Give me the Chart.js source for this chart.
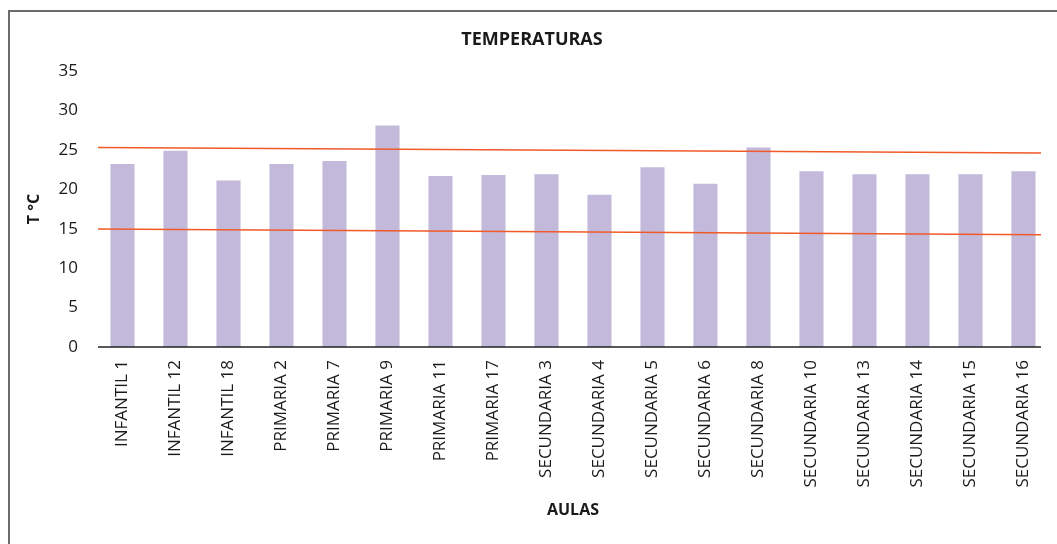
<!DOCTYPE html>
<html>
<head>
<meta charset="utf-8">
<script src="https://cdn.jsdelivr.net/npm/chart.js@4.4.1/dist/chart.umd.min.js"></script>
<style>
  html, body { margin: 0; padding: 0; background: #fff; overflow: hidden; }
  #wrap { position: relative; width: 1057px; height: 544px; }
  #frame { position: absolute; left: 8px; top: 10px; width: 1100px; height: 600px;
           border-left: 2px solid #6b6b6b; border-top: 2px solid #6b6b6b; box-sizing: border-box; }
  canvas { position: absolute; left: 0; top: 0; }
</style>
</head>
<body>
<div id="wrap">
  <div id="frame"></div>
  <canvas id="c" width="1057" height="544"></canvas>
</div>
<script>
const categories = ["INFANTIL 1","INFANTIL 12","INFANTIL 18","PRIMARIA 2","PRIMARIA 7","PRIMARIA 9","PRIMARIA 11","PRIMARIA 17","SECUNDARIA 3","SECUNDARIA 4","SECUNDARIA 5","SECUNDARIA 6","SECUNDARIA 8","SECUNDARIA 10","SECUNDARIA 13","SECUNDARIA 14","SECUNDARIA 15","SECUNDARIA 16"];
const temperatures = [23.2, 24.9, 21.1, 23.2, 23.6, 28.1, 21.7, 21.8, 21.9, 19.3, 22.8, 20.7, 25.3, 22.3, 21.9, 21.9, 21.9, 22.3];
const upperLine = [25.3, 24.6];   // start, end of upper reference line
const lowerLine = [14.95, 14.25]; // start, end of lower reference line
const axisLine = [0, 0];          // x-axis baseline
const yTicks = [0, 5, 10, 15, 20, 25, 30, 35];

const FONT = "'Open Sans', 'Liberation Sans', sans-serif";
const ORANGE = '#F05A28';
const TXT = '#1a1a1a';

// chart area spans px 96..1052; reference lines/axis span px 98..1043
const X2_MIN = -2 / 945, X2_MAX = 1 + 9 / 945;

new Chart(document.getElementById('c'), {
  type: 'bar',
  data: {
    labels: categories,
    datasets: [
      { type: 'bar', data: temperatures, backgroundColor: '#C3BADB', borderWidth: 0, grouped: false,
        barPercentage: 0.455, categoryPercentage: 1.0, xAxisID: 'x', yAxisID: 'y', order: 3 },
      { type: 'line', data: [{x: 0, y: upperLine[0]}, {x: 1, y: upperLine[1]}], borderColor: ORANGE,
        borderWidth: 1.5, pointRadius: 0, xAxisID: 'x2', yAxisID: 'y', order: 1 },
      { type: 'line', data: [{x: 0, y: lowerLine[0]}, {x: 1, y: lowerLine[1]}], borderColor: ORANGE,
        borderWidth: 1.5, pointRadius: 0, xAxisID: 'x2', yAxisID: 'y', order: 1 },
      { type: 'line', data: [{x: 0, y: axisLine[0]}, {x: 1, y: axisLine[1]}], borderColor: '#222',
        borderWidth: 1.5, pointRadius: 0, clip: false, xAxisID: 'x2', yAxisID: 'y', order: 0 }
    ]
  },
  options: {
    responsive: false,
    animation: false,
    layout: { padding: { left: 12, right: 5, top: 0, bottom: 0 } },
    plugins: {
      legend: { display: false },
      tooltip: { enabled: false },
      title: { display: true, text: 'TEMPERATURAS', color: TXT,
               font: { family: FONT, size: 18, weight: 'bold' }, padding: { top: 29, bottom: 20.4 } }
    },
    scales: {
      x: {
        type: 'category',
        grid: { display: false, drawTicks: false },
        border: { display: false },
        ticks: { color: TXT, font: { family: FONT, size: 17 }, maxRotation: 90, minRotation: 90, padding: 13, autoSkip: false },
        title: { display: true, text: 'AULAS', color: TXT, font: { family: FONT, size: 16, weight: 'bold' }, padding: { top: 0, bottom: 24 } },
        afterFit: s => { s.height = 197; }
      },
      x2: { type: 'linear', min: X2_MIN, max: X2_MAX, display: false, offset: false, grid: { offset: false } },
      y: {
        min: 0, max: 35,
        afterBuildTicks: s => { s.ticks = yTicks.map(v => ({ value: v })); },
        grid: { display: false, drawTicks: false },
        border: { display: false },
        ticks: { color: TXT, font: { family: FONT, size: 17 }, padding: 18 },
        title: { display: true, text: 'T °C', color: TXT, font: { family: FONT, size: 16, weight: 'bold' }, padding: { top: 13, bottom: 0 } },
        afterFit: s => { s.width = 84; }
      }
    }
  }
});
</script>
</body>
</html>
